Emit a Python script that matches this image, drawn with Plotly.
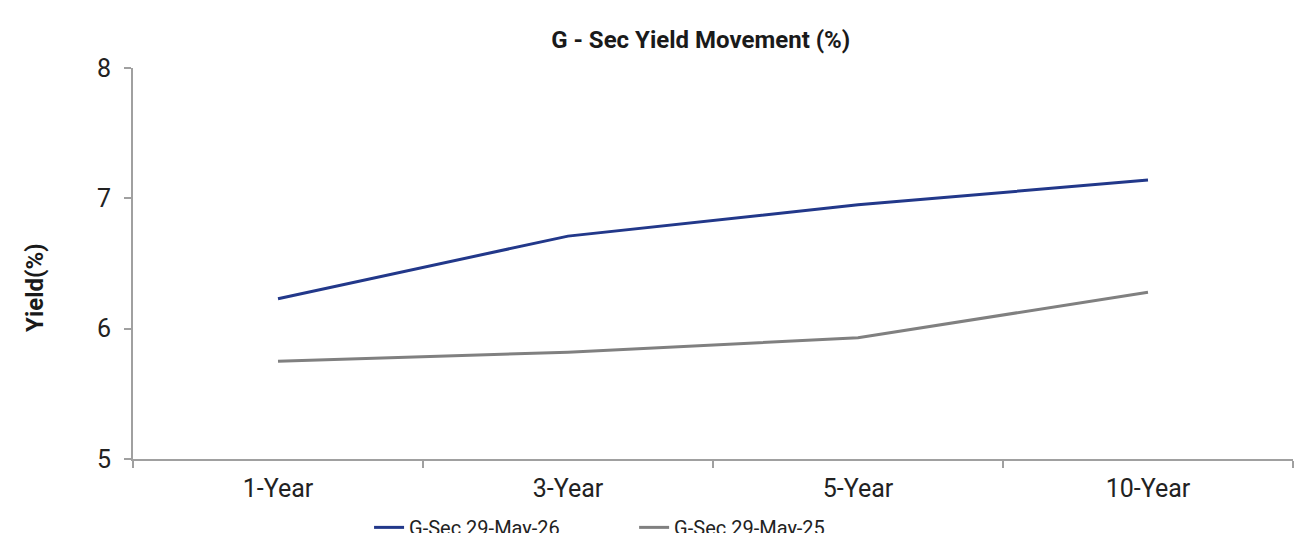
import plotly.graph_objects as go

tenors = ["1-Year", "3-Year", "5-Year", "10-Year"]
yield_2026 = [6.23, 6.71, 6.95, 7.14]
yield_2025 = [5.75, 5.82, 5.93, 6.28]

fig = go.Figure()

fig.add_trace(go.Scatter(
    x=tenors, y=yield_2026, mode="lines", name="G-Sec 29-May-26",
    line=dict(color="#22388a", width=3), legend="legend",
))
fig.add_trace(go.Scatter(
    x=tenors, y=yield_2025, mode="lines", name="G-Sec 29-May-25",
    line=dict(color="#808080", width=3), legend="legend2",
))

axis_color = "#a0a0a0"
legend_font = dict(family="Roboto", size=20, color="#222222")

# page body has an 8px margin, so margins are shifted to compensate
fig.update_layout(
    width=1307, height=533,
    margin=dict(l=125, r=22, t=60, b=82, autoexpand=False),
    paper_bgcolor="white", plot_bgcolor="white",
    title=dict(
        text="<b>G - Sec Yield Movement (%)</b>",
        x=0.53, xanchor="center", y=0.94, yanchor="middle",
        font=dict(family="Roboto", size=24, color="#1a1a1a"),
    ),
    font=dict(family="Roboto", size=25, color="#222222"),
    showlegend=True,
    legend=dict(orientation="h", x=0.2035, xanchor="left", y=-0.125, yanchor="top",
                font=legend_font, bgcolor="rgba(0,0,0,0)"),
    legend2=dict(orientation="h", x=0.432, xanchor="left", y=-0.125, yanchor="top",
                 font=legend_font, bgcolor="rgba(0,0,0,0)"),
    xaxis=dict(
        type="category", range=[-0.5, 3.5],
        showline=True, linecolor=axis_color, linewidth=2,
        ticks="outside", tickson="boundaries", ticklen=7, tickcolor=axis_color,
        tickwidth=1.5, ticklabelstandoff=6,
        showgrid=False, zeroline=False,
    ),
    yaxis=dict(
        range=[5, 8], dtick=1,
        showline=True, linecolor=axis_color, linewidth=2,
        ticks="outside", ticklen=7, tickcolor=axis_color, tickwidth=1.5,
        ticklabelstandoff=8,
        showgrid=False, zeroline=False,
    ),
)

# y-axis title sits a little below the middle of the axis
fig.add_annotation(
    text="<b>Yield(%)</b>", xref="paper", yref="paper",
    x=-0.0845, y=0.44, xanchor="center", yanchor="middle",
    textangle=-90, showarrow=False,
    font=dict(family="Roboto", size=24, color="#1a1a1a"),
)

fig.write_html("out.html")
